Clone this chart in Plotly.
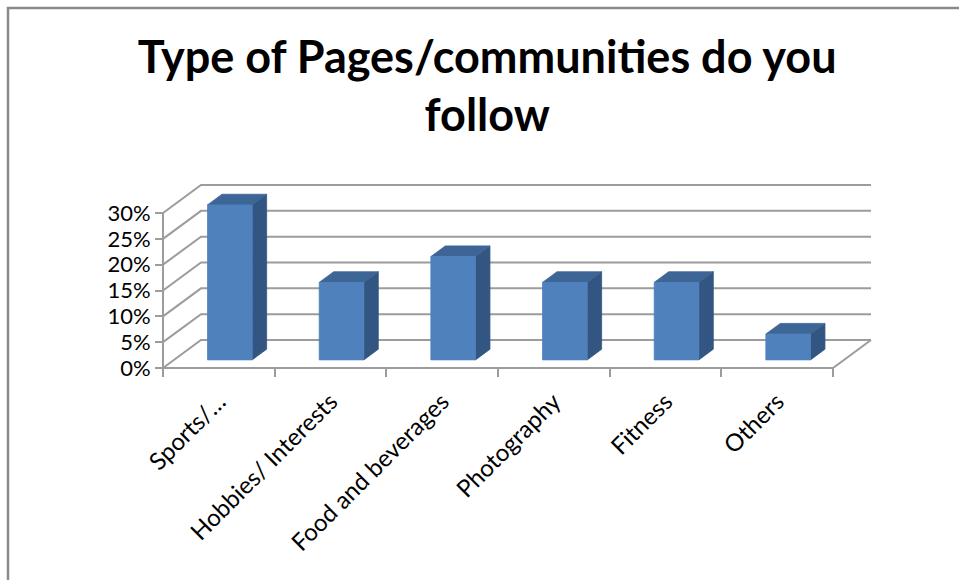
import plotly.graph_objects as go

# ---- data -------------------------------------------------------------
categories = ["Sports/…", "Hobbies/ Interests", "Food and beverages",
              "Photography", "Fitness", "Others"]
shares = [30, 15, 20, 15, 15, 5]          # % of respondents
y_ticks = [0, 5, 10, 15, 20, 25, 30]
y_tick_labels = [f"{v}%" for v in y_ticks]

# ---- page / projection settings ---------------------------------------
W, H = 959, 580
FLOOR_LEFT_PX, FLOOR_RIGHT_PX = 163, 833   # front floor edge, categories 0..n
FLOOR_Y_PX, TOP_Y_PX = 368, 213            # 0% and 30% on the front plane
Y_MAX = 30
n = len(categories)

px_per_x = (FLOOR_RIGHT_PX - FLOOR_LEFT_PX) / n
px_per_y = (FLOOR_Y_PX - TOP_Y_PX) / Y_MAX
x_range = [-FLOOR_LEFT_PX / px_per_x, (W - FLOOR_LEFT_PX) / px_per_x]
y_range = [-(H - FLOOR_Y_PX) / px_per_y, FLOOR_Y_PX / px_per_y]

# oblique depth vector of the floor (full depth), in data units
DX = 38 / px_per_x
DY = 28 / px_per_y
BAR_W = 0.40          # bar width as a fraction of a category
D_FRONT, D_BACK = 0.29, 0.67   # bar depth span as fraction of floor depth

GRID = "#9c9c9c"
FRONT, TOP, SIDE = "#4F81BD", "#3D6596", "#325681"
FONT = "Lato"

fig = go.Figure()

# back wall and side wall gridlines
gx, gy = [], []
for v in y_ticks:
    gx += [0, DX, n + DX, None]
    gy += [v, v + DY, v + DY, None]
fig.add_trace(go.Scatter(x=gx, y=gy, mode="lines",
                         line=dict(color=GRID, width=2), hoverinfo="skip"))

# floor edges and vertical axis line
fig.add_trace(go.Scatter(
    x=[0, 0, None, 0, n, n + DX],
    y=[Y_MAX, 0, None, 0, 0, DY],
    mode="lines", line=dict(color=GRID, width=2), hoverinfo="skip"))

# 3-D bars: side, top, then front face
for i, v in enumerate(shares):
    xl = i + 0.5 - BAR_W / 2 + D_FRONT * DX
    xr = xl + BAR_W
    yb = D_FRONT * DY
    yt = yb + v
    ddx = (D_BACK - D_FRONT) * DX
    ddy = (D_BACK - D_FRONT) * DY
    side = ([xr, xr + ddx, xr + ddx, xr, xr], [yb, yb + ddy, yt + ddy, yt, yb])
    top = ([xl, xr, xr + ddx, xl + ddx, xl], [yt, yt, yt + ddy, yt + ddy, yt])
    front = ([xl, xr, xr, xl, xl], [yb, yb, yt, yt, yb])
    for (px, py), col in ((side, SIDE), (top, TOP), (front, FRONT)):
        fig.add_trace(go.Scatter(x=px, y=py, mode="lines", fill="toself",
                                 fillcolor=col, line=dict(color=col, width=0.8),
                                 hoverinfo="skip"))

fig.update_layout(
    width=W, height=H,
    margin=dict(l=0, r=0, t=0, b=0),
    paper_bgcolor="white", plot_bgcolor="white",
    showlegend=False,
    title=dict(text="Type of Pages/communities do you<br>follow",
               x=0.508, xanchor="center", y=0.875, yanchor="top",
               font=dict(family=FONT, size=45, color="#000000", weight=700)),
    xaxis=dict(range=x_range, domain=[0, 1], anchor="free",
               position=1 - FLOOR_Y_PX / H,
               showgrid=False, zeroline=False, showline=False,
               tickmode="array", tickvals=[i + 0.5 for i in range(n)],
               ticktext=categories, tickangle=-45, ticks="",
               ticklabelstandoff=14,
               tickfont=dict(family=FONT, size=24, color="#000000"),
               minor=dict(tickmode="array", tickvals=list(range(n + 1)),
                          ticks="outside", ticklen=8, tickwidth=2,
                          tickcolor=GRID, showgrid=False)),
    yaxis=dict(range=y_range, domain=[0, 1], anchor="free",
               position=FLOOR_LEFT_PX / W,
               showgrid=False, zeroline=False, showline=False,
               tickmode="array", tickvals=y_ticks, ticktext=y_tick_labels,
               ticks="outside", ticklen=8, tickwidth=2, tickcolor=GRID,
               tickfont=dict(family=FONT, size=22, color="#000000")),
    shapes=[dict(type="rect", xref="paper", yref="paper",
                 x0=8 / W, x1=1.05, y0=-0.05, y1=1 - 8 / H,
                 line=dict(color="#8a8a8a", width=2.5))],
)

fig.write_html("out.html")
